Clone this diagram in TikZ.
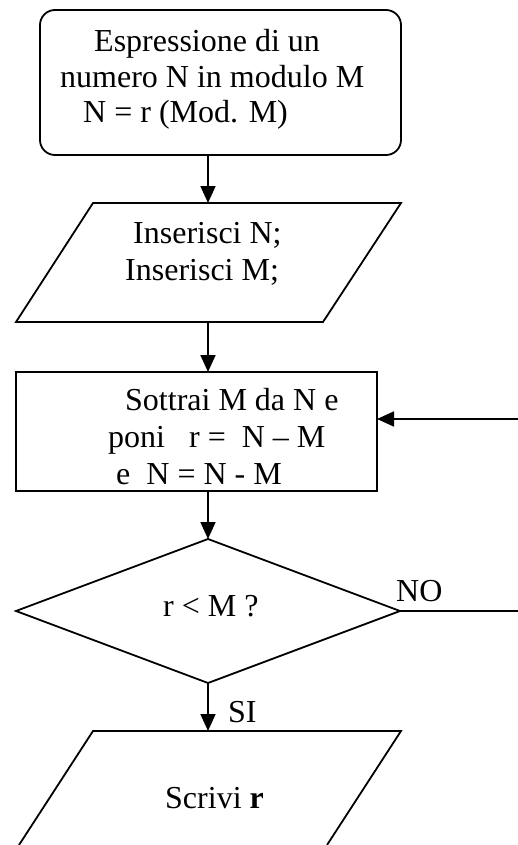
\documentclass[tikz,border=0pt]{standalone}
\usepackage{fontspec}
\setmainfont{Liberation Serif}
\usetikzlibrary{arrows.meta,shapes.geometric}

\tikzset{
  every picture/.style={x=1pt,y=-1pt},
  box/.style={draw,line width=1.8pt,inner sep=0pt,outer sep=0pt},
  txt/.style={anchor=base west,inner sep=0pt,font=\fontsize{32}{37}\selectfont},
  flow/.style={line width=1.8pt},
  arr/.style={flow,-{Triangle[length=17pt,width=15pt]}},
}

\begin{document}
\begin{tikzpicture}
\useasboundingbox (0,0) rectangle (518,845);

% start block
\node[box,rounded corners=15pt,minimum width=361pt,minimum height=145pt,anchor=north west] (start) at (40,10) {};
\node[txt] (s1) at (94,52) {Espressione di un};
\node[txt] (s2) at (60,88) {numero N in modulo M};
\node[txt] (s3) at (83,123) {N = r (Mod. M)};

% input block (parallelogram)
\coordinate (inTL) at (93,203);
\coordinate (inTR) at (401,203);
\coordinate (inBR) at (323,322);
\coordinate (inBL) at (16,322);
\draw[flow,line join=miter] (inTL) -- (inTR) -- (inBR) -- (inBL) -- cycle;
\coordinate (inTop) at (208,203);
\coordinate (inBot) at (208,322);
\node[txt] (i1) at (133,243) {Inserisci N;};
\node[txt] (i2) at (125,280) {Inserisci M;};

% process block
\node[box,minimum width=361pt,minimum height=119pt,anchor=north west] (proc) at (16,372) {};
\node[txt] (p1) at (125,410) {Sottrai M da N e};
\node[txt] (p2) at (108,447) {poni\ \ \ r =\ \ N – M};
\node[txt] (p3) at (116,484) {e\ \ N = N - M};

% decision
\node[box,diamond,minimum width=384pt,minimum height=144pt] (dec) at (208,611) {};
\node[txt] (d1) at (163,616) {r < M ?};
\node[txt] (no) at (396,601) {NO};
\node[txt] (si) at (228,722) {SI};

% output block (parallelogram, running past the lower edge)
\coordinate (outTL) at (93,731);
\coordinate (outTR) at (401,731);
\coordinate (outTop) at (208,731);
\draw[flow,line join=miter] (19,845) -- (outTL) -- (outTR) -- (327,845);
\node[txt] (o1) at (165,808) {Scrivi \textbf{r}};

% loop ends
\coordinate (loopA) at (518,611);
\coordinate (loopB) at (518,419);

% connectors
\draw[arr] (start.south -| inTop) -- (inTop);
\draw[arr] (inBot) -- (inBot |- proc.north);
\draw[arr] (dec.north |- proc.south) -- (dec.north);
\draw[arr] (dec.south) -- (outTop);
\draw[flow] (dec.east) -- (loopA);
\draw[arr] (loopB) -- (loopB -| proc.east);
\end{tikzpicture}
\end{document}
